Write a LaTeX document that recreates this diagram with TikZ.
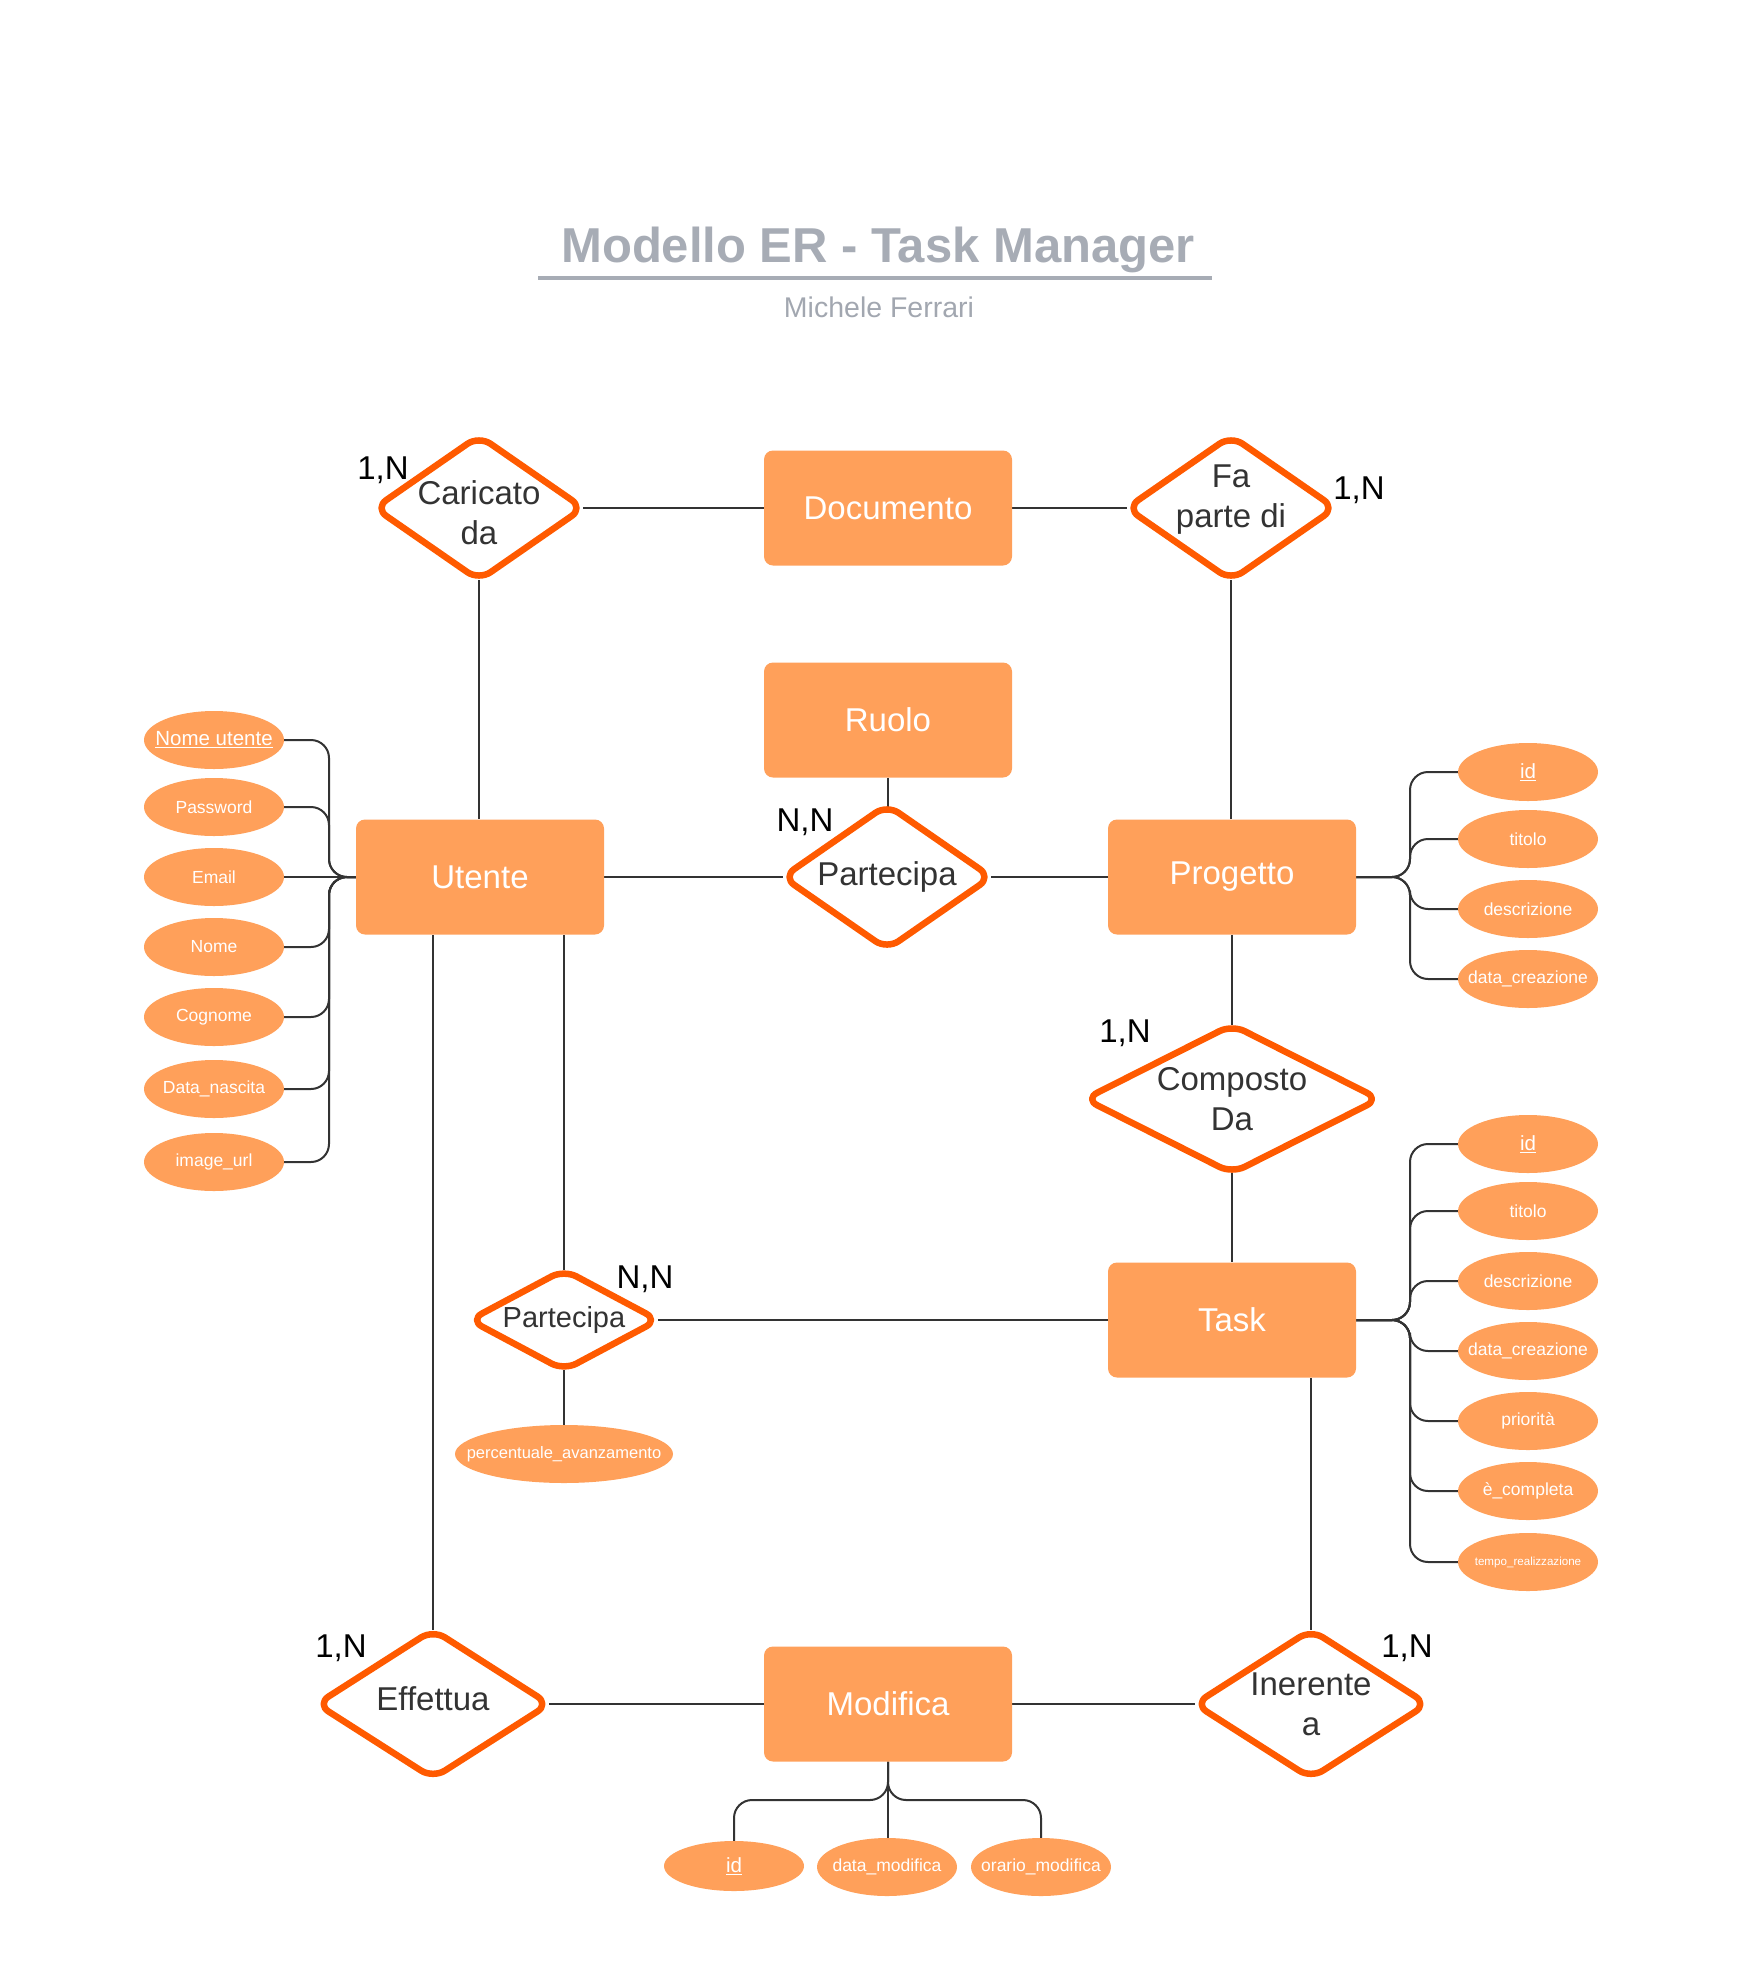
\documentclass[tikz,border=0pt]{standalone}
\usepackage{fontspec}
\setmainfont{Liberation Sans}
\usetikzlibrary{shapes.geometric,calc}
\definecolor{entfill}{HTML}{FFA05A}
\definecolor{relline}{HTML}{FF5A00}
\definecolor{conncol}{HTML}{333333}
\definecolor{titleg}{HTML}{A7ACB5}
\definecolor{subg}{HTML}{A2A7B0}
\definecolor{reltext}{HTML}{333333}
\pgfdeclarelayer{bg}
\pgfsetlayers{bg,main}
\newcommand\reldiamond[1]{\draw[dia] ($(#1.north)!0.5!(#1.east)$) -- (#1.east) -- (#1.south) -- (#1.west) -- (#1.north) -- cycle;}
\begin{document}
\begin{tikzpicture}[x=1pt,y=-1pt,
  entity/.style={fill=entfill, rounded corners=9pt, minimum width=248pt, minimum height=115pt, inner sep=0pt, text=white, font=\fontsize{33}{40}\selectfont},
  dbox/.style={draw=none, inner sep=0pt},
  dia/.style={draw=relline, fill=white, line width=6.5pt, rounded corners=14pt, line join=round},
  reltxt/.style={text=reltext, align=center, inner sep=0pt, font=\fontsize{33}{40}\selectfont},
  card/.style={text=black, inner sep=0pt, font=\fontsize{33}{40}\selectfont},
  attr/.style={ellipse, fill=entfill, minimum width=140pt, minimum height=58pt, inner xsep=-30pt, inner ysep=-10pt, text=white, font=\fontsize{17.5}{20}\selectfont},
  keyf/.style={font=\fontsize{20.5}{24}\selectfont},
  conn/.style={draw=conncol, line width=2pt},
  rc/.style={rounded corners=18pt}
]
\useasboundingbox (0,0) rectangle (1749,1973);

% title
\node[anchor=base, text=titleg, inner sep=0pt, font=\fontsize{49}{58}\selectfont\bfseries] (title) at (878,262) {Modello ER - Task Manager};
\draw[titleg, line width=4pt] (538,278) -- (1212,278);
\node[anchor=base, text=subg, inner sep=0pt, font=\fontsize{28.5}{34}\selectfont] (sub) at (879,317) {Michele Ferrari};

% entities
\node[entity] (doc) at (888,508) {Documento};
\node[entity] (ruolo) at (888,720) {Ruolo};
\node[entity] (utente) at (480,877) {Utente};
\node[entity] (progetto) at (1232,877) {Progetto};
\node[entity] (task) at (1232,1320) {Task};
\node[entity] (modifica) at (888,1704) {Modifica};

% relationship boxes
\node[dbox, minimum width=208pt, minimum height=144pt] (car) at (479,508) {};
\node[dbox, minimum width=208pt, minimum height=144pt] (fap) at (1231,508) {};
\node[dbox, minimum width=208pt, minimum height=144pt] (par) at (887,877) {};
\node[dbox, minimum width=294pt, minimum height=148pt] (comp) at (1232,1099) {};
\node[dbox, minimum width=188pt, minimum height=100pt] (par2) at (564,1320) {};
\node[dbox, minimum width=232pt, minimum height=148pt] (eff) at (433,1704) {};
\node[dbox, minimum width=232pt, minimum height=148pt] (ine) at (1311,1704) {};

\reldiamond{car}
\reldiamond{fap}
\reldiamond{par}
\reldiamond{comp}
\reldiamond{par2}
\reldiamond{eff}
\reldiamond{ine}

\node[reltxt] (car-t) at ($(car)+(0,5)$) {Caricato\\da};
\node[reltxt] (fap-t) at ($(fap)+(0,-8)$) {Fa\\parte di};
\node[reltxt] (par-t) at ($(par)+(0,0)$) {Partecipa};
\node[reltxt] (comp-t) at (comp) {Composto\\Da};
\node[reltxt, font=\fontsize{29}{35}\selectfont] (par2-t) at ($(par2)+(0,0)$) {Partecipa};
\node[reltxt] (eff-t) at ($(eff)+(0,-5)$) {Effettua};
\node[reltxt] (ine-t) at (ine) {Inerente\\a};

% cardinalities
\node[card] (c1) at (383,470) {1,N};
\node[card] (c2) at (1359,490) {1,N};
\node[card] (c3) at (805,822) {N,N};
\node[card] (c4) at (1125,1033) {1,N};
\node[card] (c5) at (645,1279) {N,N};
\node[card] (c6) at (341,1648) {1,N};
\node[card] (c7) at (1407,1648) {1,N};

% Utente attributes
\node[attr, keyf] (ua1) at (214,740) {\underline{Nome utente}};
\node[attr] (ua2) at (214,807) {Password};
\node[attr] (ua3) at (214,877) {Email};
\node[attr] (ua4) at (214,947) {Nome};
\node[attr] (ua5) at (214,1017) {Cognome};
\node[attr] (ua6) at (214,1089) {Data\_nascita};
\node[attr] (ua7) at (214,1162) {image\_url};

% Progetto attributes
\node[attr, keyf] (pa1) at (1528,772) {\underline{id}};
\node[attr] (pa2) at (1528,839) {titolo};
\node[attr] (pa3) at (1528,909) {descrizione};
\node[attr] (pa4) at (1528,979) {data\_creazione};

% Task attributes
\node[attr, keyf] (ta1) at (1528,1144) {\underline{id}};
\node[attr] (ta2) at (1528,1211) {titolo};
\node[attr] (ta3) at (1528,1281) {descrizione};
\node[attr] (ta4) at (1528,1351) {data\_creazione};
\node[attr] (ta5) at (1528,1421) {priorità};
\node[attr] (ta6) at (1528,1491) {è\_completa};
\node[attr, font=\fontsize{11.6}{14}\selectfont] (ta7) at (1528,1562) {tempo\_realizzazione};

% Modifica attributes
\node[attr, keyf, minimum height=50pt] (ma1) at (734,1866) {\underline{id}};
\node[attr] (ma2) at (887,1867) {data\_modifica};
\node[attr] (ma3) at (1041,1867) {orario\_modifica};

% percentuale
\node[attr, minimum width=218pt, font=\fontsize{16.5}{20}\selectfont] (perc) at (564,1454) {percentuale\_avanzamento};

\begin{pgfonlayer}{bg}
\draw[conn] (car) -- (doc.west);
\draw[conn] (doc.east) -- (fap);
\draw[conn] (car) -- (car |- utente.north);
\draw[conn] (fap) -- (fap |- progetto.north);
\draw[conn] (ruolo.south) -- (ruolo.south |- par);
\draw[conn] (utente.east) -- (par);
\draw[conn] (par) -- (progetto.west);
\draw[conn] (progetto.south) -- (comp);
\draw[conn] (comp) -- (task.north);
\draw[conn] (par2) -- (par2 |- utente.south);
\draw[conn] (par2) -- (task.west);
\draw[conn] (par2) -- (perc.north);
\draw[conn] (eff) -- (eff |- utente.south);
\draw[conn] (eff) -- (modifica.west);
\draw[conn] (modifica.east) -- (ine);
\draw[conn] (ine) -- (ine |- task.south);
% Utente attribute links
\foreach \n in {ua1,ua2,ua4,ua5,ua6,ua7}
  \draw[conn, rc] (\n.east) -- (\n.east -| 329,0) -- (utente.west -| 329,0) -- (utente.west);
\draw[conn] (ua3.east) -- (utente.west);
% Progetto attribute links
\foreach \n in {pa1,pa2,pa3,pa4}
  \draw[conn, rc] (progetto.east) -- (progetto.east -| 1410,0) -- (\n.west -| 1410,0) -- (\n.west);
% Task attribute links
\foreach \n in {ta1,ta2,ta3,ta4,ta5,ta6,ta7}
  \draw[conn, rc] (task.east) -- (task.east -| 1410,0) -- (\n.west -| 1410,0) -- (\n.west);
% Modifica attribute links
\draw[conn, rc] (modifica.south) -- (modifica.south |- 0,1800) -- (ma1.north |- 0,1800) -- (ma1.north);
\draw[conn] (modifica.south) -- (modifica.south |- ma2.north);
\draw[conn, rc] (modifica.south) -- (modifica.south |- 0,1800) -- (ma3.north |- 0,1800) -- (ma3.north);
\end{pgfonlayer}
\end{tikzpicture}
\end{document}
